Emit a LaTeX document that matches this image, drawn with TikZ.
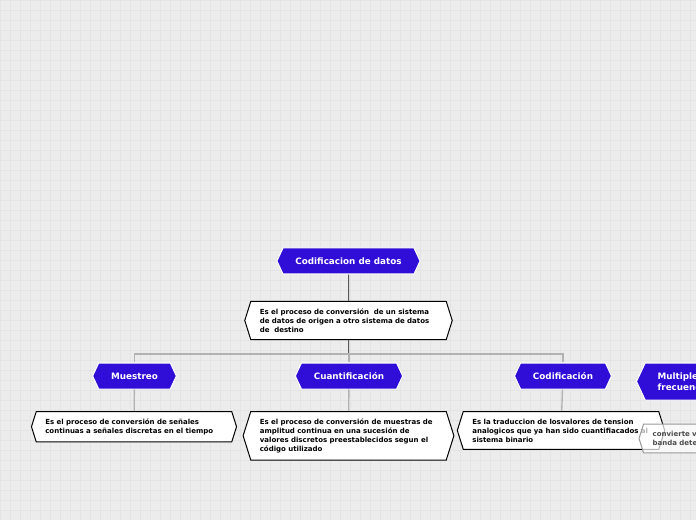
\documentclass[tikz,border=0pt]{standalone}
\usepackage{fontspec}
\setmainfont{DejaVu Sans}
\usetikzlibrary{shapes.symbols}
\definecolor{topicblue}{RGB}{48,14,216}
\definecolor{paper}{RGB}{236,236,236}
\definecolor{gridline}{RGB}{228,228,228}
\tikzset{
  topic/.style={signal, signal to=west and east, signal pointer angle=130, fill=topicblue, draw=white, line width=0.75pt, text=white, font=\fontsize{6.6}{8.25}\selectfont\bfseries, minimum height=19.5pt, inner xsep=9.3pt, inner ysep=1pt},
  notebox/.style={signal, signal to=west and east, signal pointer angle=145, fill=white, draw=black, line width=0.75pt, text width=133pt, align=left, font=\fontsize{5.25}{6.75}\selectfont\bfseries, inner xsep=6.8pt, inner ysep=5.4pt},
  trunk/.style={draw=black!65, line width=0.75pt},
  branch/.style={draw=black!30, line width=1pt},
}
\begin{document}
\begin{tikzpicture}[x=0.75pt,y=-0.75pt]
  \clip (0,0) rectangle (696,520);
  \fill[paper] (0,0) rectangle (696,520);
  \draw[gridline, line width=0.5pt, step=7.5pt] (0,520) grid (696,0);
  \node[topic] (root) at (348.5,261) {Codificacion de datos};
  \node[notebox] (rootnote) at (348.5,320.5) {Es el proceso de conversión\ \ de un sistema\\de datos de origen a otro sistema de datos\\de\ \ destino};
  \coordinate (fork) at (348.5,354);
  \node[topic] (muestreo) at (134.5,376) {Muestreo};
  \node[topic] (cuant) at (349,376) {Cuantificación};
  \node[topic] (codif) at (563,376) {Codificación};
  \node[topic, minimum height=27.75pt, align=left, anchor=west] (multiplex) at (636,381.5) {Multiplexación por división de\\frecuencia};
  \node[notebox, anchor=north] (muestreonote) at (134,411) {Es el proceso de conversión de señales\\continuas a señales discretas en el tiempo};
  \node[notebox, anchor=north] (cuantnote) at (348.5,411) {Es el proceso de conversión de muestras de\\amplitud continua en una sucesión de\\valores discretos preestablecidos segun el\\código utilizado};
  \node[notebox, anchor=north] (codifnote) at (561,411) {Es la traduccion de losvalores de tension\\analogicos que ya han sido cuantifiacados al\\sistema binario};
  \node[notebox, draw=black!40, text=black!70, fill opacity=0.7, text opacity=1, anchor=west] (multinote) at (638.5,438.5) {convierte varias señales en una\\banda determinada};
  \draw[trunk] (root) -- (rootnote);
  \draw[trunk] (rootnote) -- (fork);
  \draw[branch] (fork) -| (muestreo);
  \draw[branch] (fork) -| (cuant);
  \draw[branch] (fork) -| (codif);
  \draw[branch] (muestreo) -- (muestreonote);
  \draw[branch] (cuant) -- (cuantnote);
  \draw[branch] (codif) -- (codifnote);
\end{tikzpicture}
\end{document}
